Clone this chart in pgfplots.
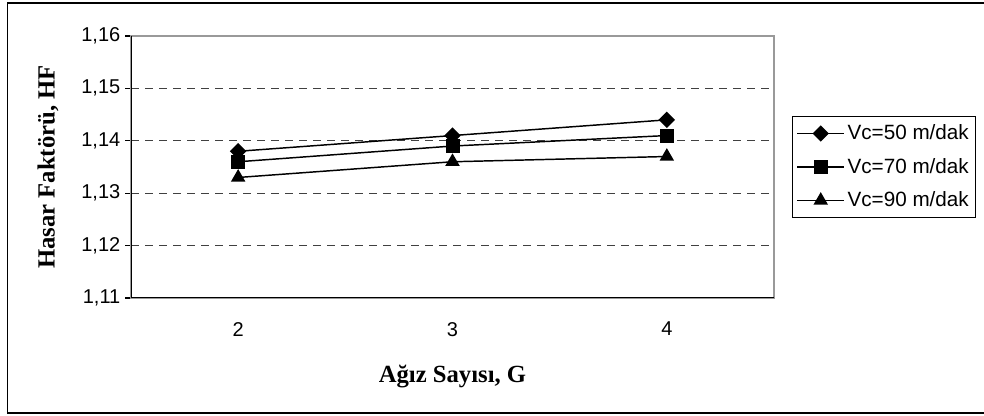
\documentclass[border=0pt]{standalone}
\usepackage{pgfplots}
\pgfplotsset{compat=1.18}
\usepackage{fontspec}
\setmainfont{Liberation Sans}
\newfontfamily\timesfont{Liberation Serif}

\begin{document}
\begin{tikzpicture}
\useasboundingbox (0pt,0pt) rectangle (738pt,312pt);
\draw[line width=1.4pt] (750pt,309.75pt) -- (5.6pt,309.75pt) -- (5.6pt,2.25pt) -- (750pt,2.25pt);
\begin{axis}[
  at={(98.25pt,88.5pt)}, anchor=south west,
  scale only axis, width=482.25pt, height=196.5pt,
  xmin=1.5, xmax=4.5, ymin=1.11, ymax=1.16,
  xtick={2,3,4}, xticklabels={2,3,4},
  minor xtick={1.5,2.5,3.5,4.5},
  ytick={1.11,1.12,1.13,1.14,1.15,1.16},
  xtick pos=lower, ytick pos=left,
  tick align=outside,
  xtick style={draw=none},
  minor x tick style={black, line width=0.8pt},
  minor tick length=5.5pt,
  y tick style={black, line width=0.8pt},
  major tick length=4.5pt,
  axis line style={gray!80, line width=1pt},
  ymajorgrids,
  grid style={black!75, line width=0.75pt, dash pattern=on 6pt off 4.5pt},
  /pgf/number format/assume math mode=true,
  yticklabel style={/pgf/number format/.cd, fixed, fixed zerofill, precision=2, use comma},
  ticklabel style={font=\fontsize{15}{18}\selectfont},
  xticklabel style={yshift=-10pt},
  xlabel={\timesfont\bfseries Ağız Sayısı, G},
  ylabel={\timesfont\bfseries Hasar Faktörü, HF},
  label style={font=\fontsize{18.5}{22}\selectfont},
  xlabel style={at={(axis description cs:0.5,-0.30)}, anchor=center},
  ylabel style={at={(axis description cs:-0.129,0.5)}, anchor=center, rotate=0},
  legend style={at={(1.028,0.5)}, anchor=west, draw=black, line width=0.8pt,
    font=\fontsize{15.5}{18}\selectfont, inner xsep=3pt, inner ysep=4.5pt, row sep=8.4pt},
  legend cell align=left,
  legend image code/.code={\draw[mark repeat=2,mark phase=2,#1] plot coordinates {(0pt,0pt) (17.6pt,0pt) (35.2pt,0pt)};},
]
\addplot[black, line width=1.1pt, mark=square*, mark size=3.8pt, mark options={solid, fill=black, rotate=45}] coordinates {(2,1.138) (3,1.141) (4,1.144)};
\addlegendentry{Vc=50 m/dak}
\addplot[black, line width=1.1pt, mark=square*, mark size=4.7pt, mark options={solid, fill=black}] coordinates {(2,1.136) (3,1.139) (4,1.141)};
\addlegendentry{Vc=70 m/dak}
\addplot[black, line width=1.1pt, mark=triangle*, mark size=5.2pt, mark options={solid, fill=black}] coordinates {(2,1.133) (3,1.136) (4,1.137)};
\addlegendentry{Vc=90 m/dak}
\draw[black, line width=1.1pt] (rel axis cs:0,1) -- (rel axis cs:0,0) -- (rel axis cs:1,0);
\end{axis}
\end{tikzpicture}
\end{document}
